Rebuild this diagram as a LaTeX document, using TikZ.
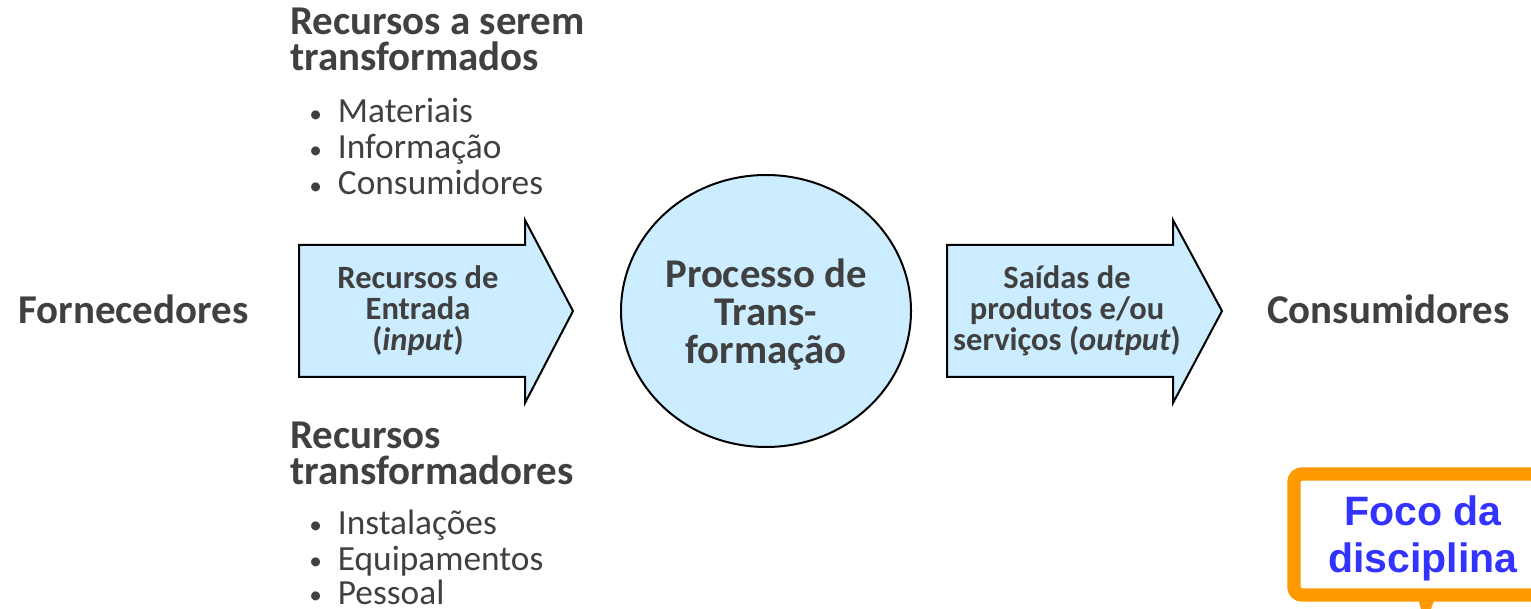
\documentclass[tikz,border=0pt]{standalone}
\usepackage{fontspec}
\usetikzlibrary{shapes.geometric}
\setmainfont{Carlito}
\newfontfamily\arialf{Liberation Sans}
\definecolor{txt}{HTML}{404040}
\definecolor{lblue}{HTML}{CCECFF}
\definecolor{orng}{HTML}{FF9900}
\definecolor{fblue}{HTML}{3333FF}
\newcommand{\bulmark}{\makebox[21.5pt][l]{\raisebox{0.5pt}{\fontsize{19}{19}\selectfont•}}}
\begin{document}
\begin{tikzpicture}[x=0.75pt,y=-0.75pt,
  big/.style={inner sep=0pt,text=txt,font=\fontsize{30.7}{34}\selectfont\bfseries},
  head/.style={inner sep=0pt,text=txt,align=left,font=\fontsize{30.7}{26.5}\selectfont\bfseries},
  bul/.style={inner sep=0pt,text=txt,align=left,font=\fontsize{26.5}{27}\selectfont},
  arrtxt/.style={inner sep=0pt,text=txt,align=center,font=\fontsize{24.4}{23.25}\selectfont\bfseries},
  circtxt/.style={inner sep=0pt,text=txt,align=center,font=\fontsize{30.6}{28.5}\selectfont\bfseries},
  blockarrow/.style={draw=black,fill=lblue,line width=1.5pt,line join=miter},
  foco/.style={inner sep=0pt,text=fblue,align=center,font=\fontsize{30.8}{35}\selectfont\arialf\bfseries}
]
\useasboundingbox (0,0) rectangle (1531,609);
\clip (0,0) rectangle (1531,609);

% block arrows
\draw[blockarrow] (299,245) -- (525,245) -- (525,220) -- (573,311) -- (525,403) -- (525,377) -- (299,377) -- cycle;
\draw[blockarrow] (947,245) -- (1173,245) -- (1173,220) -- (1222,311) -- (1173,403) -- (1173,377) -- (947,377) -- cycle;

% circle
\node[draw=black,fill=lblue,line width=1.5pt,ellipse,minimum width=217.5pt,minimum height=204pt,inner sep=0pt] (proc) at (766,311) {};

\node[circtxt] (proct) at (766,315) {Processo de\\Trans-\\formação};
\node[arrtxt] (inp) at (418,311) {Recursos de\\Entrada\\(\textit{input})};
\node[arrtxt] (outp) at (1067,311) {Saídas de\\produtos e/ou\\serviços (\textit{output})};

\node[big,anchor=base west] (forn) at (18,324) {Fornecedores};
\node[big,anchor=base west] (cons) at (1267,324) {Consumidores};

\node[head,anchor=north west] (h1) at (290,8) {Recursos a serem\\transformados};
\node[bul,anchor=base west] (b1) at (309,123) {\bulmark Materiais};
\node[bul,anchor=base west] (b2) at (309,159) {\bulmark Informação};
\node[bul,anchor=base west] (b3) at (309,195) {\bulmark Consumidores};

\node[head,anchor=north west] (h2) at (290,422) {Recursos\\transformadores};
\node[bul,anchor=base west] (b4) at (309,534) {\bulmark Instalações};
\node[bul,anchor=base west] (b5) at (309,570) {\bulmark Equipamentos};
\node[bul,anchor=base west] (b6) at (309,604) {\bulmark Pessoal};

% focus box
\fill[orng] (1418,598) -- (1435,598) -- (1431,609) -- (1421,609) -- cycle;
\draw[orng,line width=10pt,rounded corners=6pt,fill=white] (1294,474) rectangle (1560,595);
\node[foco,anchor=base] (foco1) at (1423,525) {Foco da};
\node[foco,anchor=base] (foco2) at (1423,572) {disciplina};
\end{tikzpicture}
\end{document}
